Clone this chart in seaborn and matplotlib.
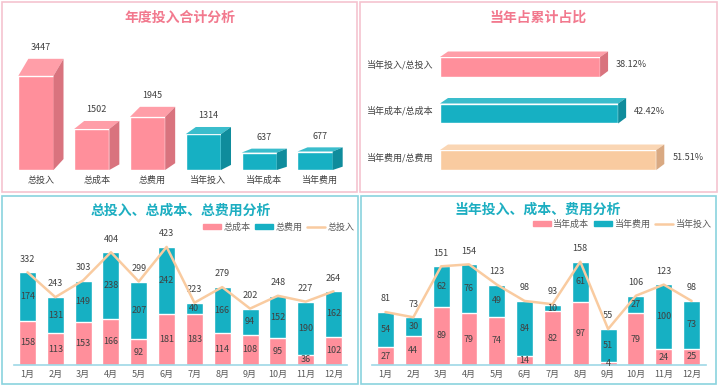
import numpy as np
import matplotlib
matplotlib.use('Agg')
import matplotlib.pyplot as plt
import seaborn as sns
from matplotlib.patches import Rectangle, Polygon, Patch
from matplotlib.lines import Line2D

sns.set_style('white')
plt.rcParams['font.family'] = ['Noto Sans CJK SC', 'DejaVu Sans']

# 数据
sum_cats = ['总投入', '总成本', '总费用', '当年投入', '当年成本', '当年费用']
sum_vals = [3447, 1502, 1945, 1314, 637, 677]

ratio_cats = ['当年投入/总投入', '当年成本/总成本', '当年费用/总费用']
ratio_vals = [0.3812, 0.4242, 0.5151]

months = ['{0}月'.format(i) for i in range(1, 13)]
total_cost = [158, 113, 153, 166, 92, 181, 183, 114, 108, 95, 36, 102]
total_fee = [174, 131, 149, 238, 207, 242, 40, 166, 94, 152, 190, 162]
total_input = [332, 243, 303, 404, 299, 423, 223, 279, 202, 248, 227, 264]

year_cost = [27, 44, 89, 79, 74, 14, 82, 97, 4, 79, 24, 25]
year_fee = [54, 30, 62, 76, 49, 84, 10, 61, 51, 27, 100, 73]
year_input = [81, 73, 151, 154, 123, 98, 93, 158, 55, 106, 123, 98]

# 颜色
pink, pink_side, pink_top = '#FF8F9B', '#D9737E', '#FF9EA8'
teal, teal_side, teal_top = '#16B0C3', '#0F8C9C', '#3ABDCC'
peach, peach_side, peach_top = '#F9CBA0', '#D9A982', '#FAD6B4'
title_pink = '#F2798E'
title_teal = '#1DAEC1'
txt = '#404040'
txt2 = '#595959'

W, H = 720, 387
fig = plt.figure(figsize=(W / 100, H / 100), dpi=100)
fig.patch.set_facecolor('white')


def ax_at(x0, y0, x1, y1):
    a = fig.add_axes([x0 / W, 1 - y1 / H, (x1 - x0) / W, (y1 - y0) / H])
    a.set_facecolor('none')
    return a


def frame(x0, y0, x1, y1, c):
    fig.add_artist(Rectangle((x0 / W, 1 - y1 / H), (x1 - x0) / W, (y1 - y0) / H,
                             transform=fig.transFigure, fill=False, ec=c, lw=1.2))


def to_data(ax, pts):
    return ax.transData.inverted().transform(np.array(pts))


# 面板边框
frame(2, 2, 357, 192, '#F5C3CF')
frame(360, 2, 717, 192, '#F5C3CF')
frame(2, 196, 358, 384, '#8AD3DE')
frame(361, 196, 716, 384, '#8AD3DE')

fig.text(180 / W, 1 - 18 / H, '年度投入合计分析', color=title_pink, fontsize=10,
         fontweight='bold', ha='center', va='center')
fig.text(538 / W, 1 - 18 / H, '当年占累计占比', color=title_pink, fontsize=10,
         fontweight='bold', ha='center', va='center')
fig.text(181 / W, 1 - 211 / H, '总投入、总成本、总费用分析', color=title_teal, fontsize=10,
         fontweight='bold', ha='center', va='center')
fig.text(538 / W, 1 - 210 / H, '当年投入、成本、费用分析', color=title_teal, fontsize=10,
         fontweight='bold', ha='center', va='center')

# ---- 年度投入合计分析 (3D 柱)
ax1 = ax_at(8, 30, 343, 170)
sns.barplot(x=sum_cats, y=sum_vals, hue=sum_cats, palette=[pink] * 3 + [teal] * 3,
            legend=False, width=0.63, saturation=1, ax=ax1)
ax1.set_xlim(-0.5, 5.5)
ax1.set_ylim(0, 5124)
ax1.axis('off')

sides = [pink_side] * 3 + [teal_side] * 3
tops = [pink_top] * 3 + [teal_top] * 3
for i, p in enumerate(ax1.patches):
    x0, y0 = p.get_x(), 0
    (X0, Y0), (X1, Y1) = ax1.transData.transform([(x0, y0), (x0 + p.get_width(), p.get_height())])
    hp = Y1 - Y0
    dx, dyt, dyb = 10, 0.17 * hp + 1, 0.1 * hp + 1.5
    top = to_data(ax1, [(X0, Y1), (X1, Y1), (X1 + dx, Y1 + dyt), (X0 + dx, Y1 + dyt)])
    side = to_data(ax1, [(X1, Y0), (X1, Y1), (X1 + dx, Y1 + dyt), (X1 + dx, Y0 + dyb)])
    ax1.add_patch(Polygon(top, closed=True, fc=tops[i], ec='none', clip_on=False))
    ax1.add_patch(Polygon(side, closed=True, fc=sides[i], ec='none', clip_on=False))
    xc = (X0 + X1) / 2 + dx / 2
    lx, ly = to_data(ax1, [(xc, Y1 + dyt + 11)])[0]
    ax1.text(lx, ly, str(sum_vals[i]), ha='center', va='center', fontsize=6.5, color=txt)
    cx, cy = to_data(ax1, [(xc, Y0 - 10)])[0]
    ax1.text(cx, cy, sum_cats[i], ha='center', va='center', fontsize=6.5, color=txt)

# ---- 当年占累计占比 (3D 横条)
ax2 = ax_at(440, 43.75, 710, 183.25)
sns.barplot(x=ratio_vals, y=ratio_cats, hue=ratio_cats, palette=[pink, teal, peach],
            legend=False, orient='h', width=0.43, saturation=1, ax=ax2)
ax2.set_xlim(0, 0.643)
ax2.set_ylim(2.5, -0.5)
ax2.axis('off')

sides = [pink_side, teal_side, peach_side]
tops = [pink_top, teal_top, peach_top]
for i, p in enumerate(ax2.patches):
    y0 = p.get_y()
    (X0, Ya), (X1, Yb) = ax2.transData.transform([(0, y0), (p.get_width(), y0 + p.get_height())])
    Ybot, Ytop = min(Ya, Yb), max(Ya, Yb)
    dx, dy = 8, 5.5
    top = to_data(ax2, [(X0, Ytop), (X1, Ytop), (X1 + dx, Ytop + dy), (X0 + dx, Ytop + dy)])
    side = to_data(ax2, [(X1, Ybot), (X1, Ytop), (X1 + dx, Ytop + dy), (X1 + dx, Ybot + 6)])
    ax2.add_patch(Polygon(top, closed=True, fc=tops[i], ec='none', clip_on=False))
    ax2.add_patch(Polygon(side, closed=True, fc=sides[i], ec='none', clip_on=False))
    ym = (Ybot + Ytop) / 2 + 2.5
    cx, cy = to_data(ax2, [(X0 - 7, ym)])[0]
    ax2.text(cx, cy, ratio_cats[i], ha='right', va='center', fontsize=6.5, color=txt)
    vx, vy = to_data(ax2, [(X1 + 16, ym)])[0]
    ax2.text(vx, vy, '{0:.2f}%'.format(ratio_vals[i] * 100), ha='left', va='center',
             fontsize=6.5, color=txt)


# ---- 堆积柱 + 折线
def stacked(ax, cost, fee, inp, ymax, names, leg_xy):
    tot = [c + f for c, f in zip(cost, fee)]
    sns.barplot(x=months, y=tot, color=teal, width=0.61, saturation=1, ax=ax)
    sns.barplot(x=months, y=cost, color=pink, width=0.61, saturation=1, ax=ax)
    sns.lineplot(x=np.arange(12), y=inp, color=peach, lw=1.8, ax=ax, zorder=5)
    ax.set_xlim(-0.5, 11.5)
    ax.set_ylim(0, ymax)
    for i in range(12):
        ax.text(i, cost[i] / 2, str(cost[i]), ha='center', va='center', fontsize=6.5, color=txt, zorder=6)
        ax.text(i, cost[i] + fee[i] / 2, str(fee[i]), ha='center', va='center', fontsize=6.5,
                color=txt, zorder=6)
        ax.annotate(str(inp[i]), (i, inp[i]), xytext=(0, 9.5), textcoords='offset points',
                    ha='center', va='center', fontsize=6.5, color=txt)
    for s in ['top', 'right', 'left']:
        ax.spines[s].set_visible(False)
    ax.spines['bottom'].set_color('#9ED8E6')
    ax.spines['bottom'].set_linewidth(1.2)
    ax.set_yticks([])
    ax.set_xlabel('')
    ax.set_ylabel('')
    ax.tick_params(axis='x', length=0, pad=3.5, labelsize=6.5, labelcolor=txt2)
    handles = [Patch(color=pink), Patch(color=teal), Line2D([], [], color=peach, lw=1.8)]
    fig.legend(handles, names, loc='center right', bbox_to_anchor=(leg_xy[0] / W, 1 - leg_xy[1] / H),
               ncol=3, frameon=False, fontsize=6.5, handlelength=2.0, handleheight=0.6,
               handletextpad=0.3, columnspacing=0.5, labelcolor=txt2, borderaxespad=0,
               borderpad=0)


ax3 = ax_at(13.6, 231, 347.4, 365)
stacked(ax3, total_cost, total_fee, total_input, 480, ['总成本', '总费用', '总投入'], (355, 227))

ax4 = ax_at(371.6, 231, 705.5, 365)
stacked(ax4, year_cost, year_fee, year_input, 205, ['当年成本', '当年费用', '当年投入'], (712, 224))

fig.savefig('out.png', dpi=100, facecolor='white')
